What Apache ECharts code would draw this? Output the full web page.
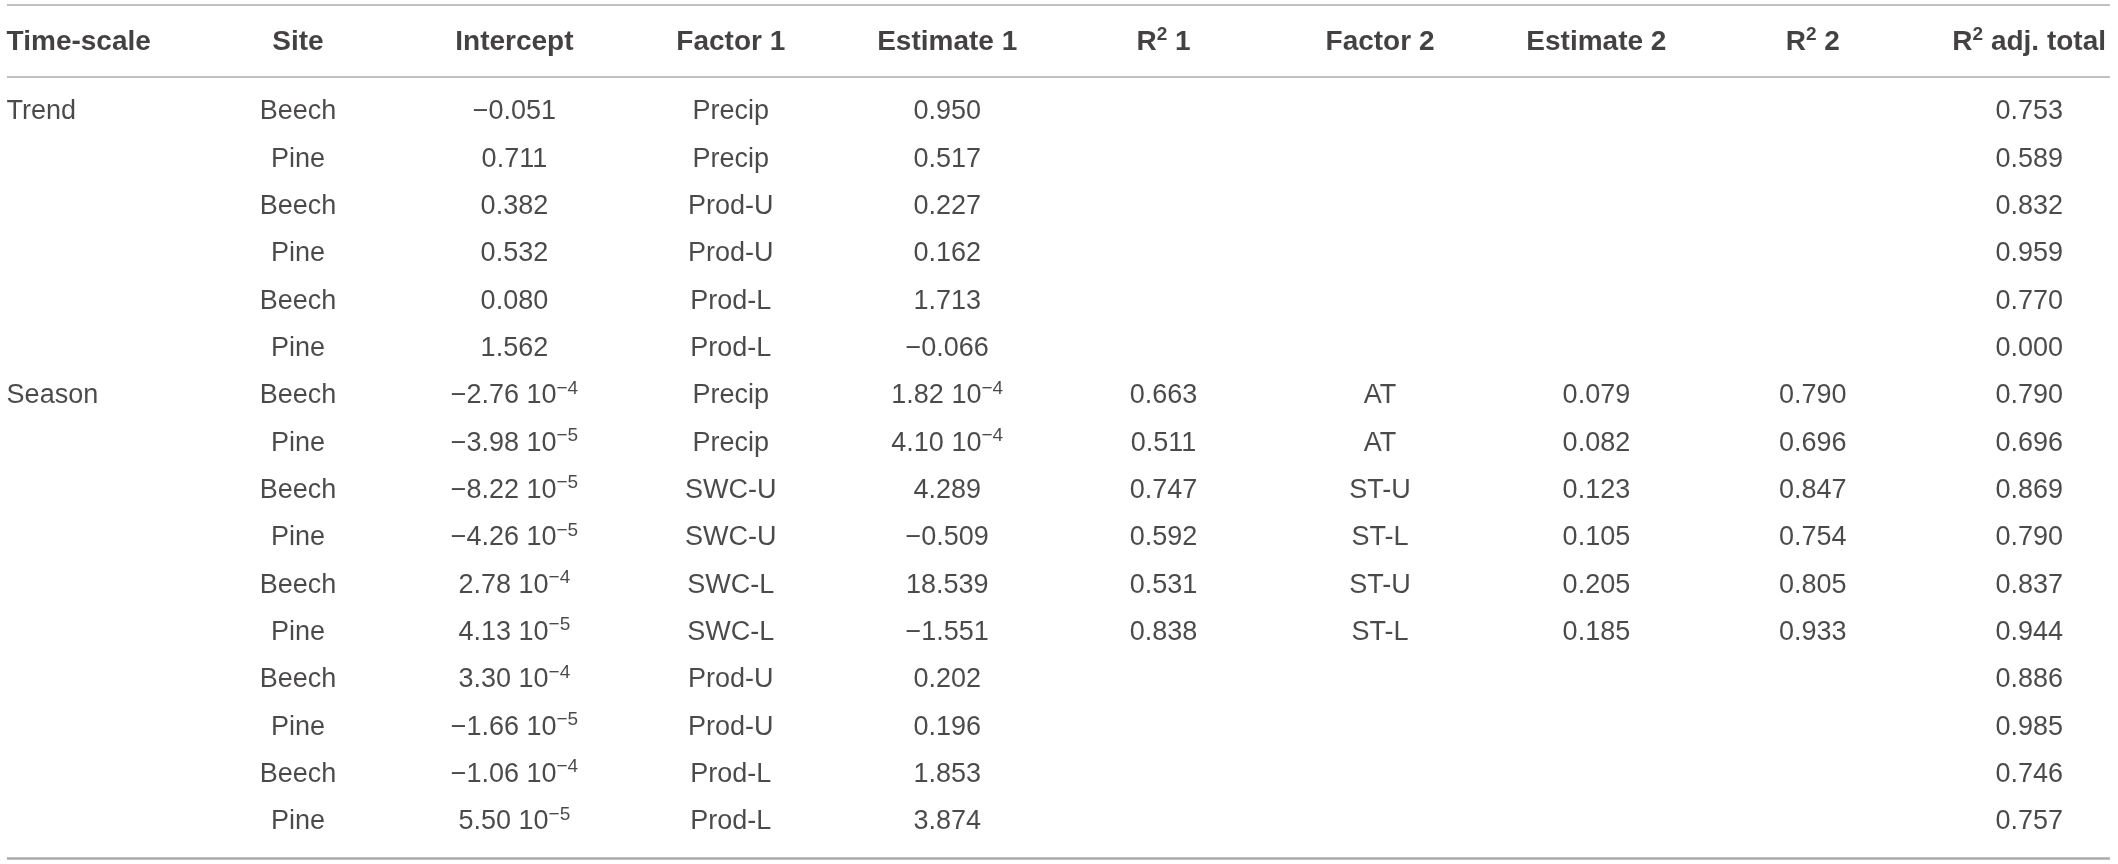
<!DOCTYPE html>
<html>
<head>
<meta charset="utf-8">
<title>Regression table</title>
<style>
  html, body { margin: 0; padding: 0; background: #fff; }
  #chart { width: 2118px; height: 864px; }
</style>
<script src="https://cdn.jsdelivr.net/npm/echarts@6/dist/echarts.min.js"></script>
</head>
<body>
<div id="chart"></div>
<script>
// column headers
const headers = ['Time-scale', 'Site', 'Intercept', 'Factor 1', 'Estimate 1',
  'R{hsup|2} 1', 'Factor 2', 'Estimate 2', 'R{hsup|2} 2', 'R{hsup|2} adj. total'];

// table body, one array per column (null = empty cell)
const timeScale = ['Trend', null, null, null, null, null,
  'Season', null, null, null, null, null, null, null, null, null];
const sites = ['Beech', 'Pine', 'Beech', 'Pine', 'Beech', 'Pine',
  'Beech', 'Pine', 'Beech', 'Pine', 'Beech', 'Pine', 'Beech', 'Pine', 'Beech', 'Pine'];
const intercept = [-0.051, 0.711, 0.382, 0.532, 0.080, 1.562,
  -2.76e-4, -3.98e-5, -8.22e-5, -4.26e-5, 2.78e-4, 4.13e-5, 3.30e-4, -1.66e-5, -1.06e-4, 5.50e-5];
const factor1 = ['Precip', 'Precip', 'Prod-U', 'Prod-U', 'Prod-L', 'Prod-L',
  'Precip', 'Precip', 'SWC-U', 'SWC-U', 'SWC-L', 'SWC-L', 'Prod-U', 'Prod-U', 'Prod-L', 'Prod-L'];
const estimate1 = [0.950, 0.517, 0.227, 0.162, 1.713, -0.066,
  1.82e-4, 4.10e-4, 4.289, -0.509, 18.539, -1.551, 0.202, 0.196, 1.853, 3.874];
const r2First = [null, null, null, null, null, null,
  0.663, 0.511, 0.747, 0.592, 0.531, 0.838, null, null, null, null];
const factor2 = [null, null, null, null, null, null,
  'AT', 'AT', 'ST-U', 'ST-L', 'ST-U', 'ST-L', null, null, null, null];
const estimate2 = [null, null, null, null, null, null,
  0.079, 0.082, 0.123, 0.105, 0.205, 0.185, null, null, null, null];
const r2Second = [null, null, null, null, null, null,
  0.790, 0.696, 0.847, 0.754, 0.805, 0.933, null, null, null, null];
const r2Total = [0.753, 0.589, 0.832, 0.959, 0.770, 0.000,
  0.790, 0.696, 0.869, 0.790, 0.837, 0.944, 0.886, 0.985, 0.746, 0.757];

const columns = [timeScale, sites, intercept, factor1, estimate1,
  r2First, factor2, estimate2, r2Second, r2Total];

// layout (axis units: one column / one row per unit)
const headerRow = -1.48;
const ruleTop = -2.26, ruleHead = -0.74, ruleBottom = 15.76;
const ruleX0 = -0.345, ruleX1 = 9.373;
const font = '"Liberation Sans", Arial, Helvetica, sans-serif';
const textColor = '#1e1c1d';
const headColor = '#141213';
const ruleColor = '#ababab';

function fmt(v) {
  if (typeof v === 'string') return v;
  const a = Math.abs(v);
  if (a !== 0 && a < 0.001) {
    const e = Math.floor(Math.log10(a));
    const m = (v / Math.pow(10, e)).toFixed(2);
    return m.replace('-', '\u2212') + ' 10{sup|\u2212' + Math.abs(e) + '}';
  }
  return v.toFixed(3).replace('-', '\u2212');
}

const leftCol = { align: 'left', offset: [-75, 0] };

const cells = [];
columns.forEach((col, c) => {
  col.forEach((v, r) => {
    if (v === null) return;
    const item = { name: fmt(v), value: [c, r] };
    if (c === 0) item.label = leftCol;
    cells.push(item);
  });
});

const heads = headers.map((h, c) => {
  const item = { name: h, value: [c, headerRow] };
  if (c === 0) item.label = leftCol;
  return item;
});

const rule = (y, w) => [
  { coord: [ruleX0, y], lineStyle: { color: ruleColor, width: w, type: 'solid' } },
  { coord: [ruleX1, y] }
];

const chart = echarts.init(document.getElementById('chart'));

chart.setOption({
  animation: false,
  backgroundColor: '#fff',
  grid: { left: 0, right: 0, top: 0, bottom: 0 },
  xAxis: { type: 'value', min: -0.3771, max: 9.4104, show: false },
  yAxis: { type: 'value', inverse: true, min: -2.366, max: 15.887, show: false },
  series: [
    {
      type: 'scatter',
      silent: true,
      symbolSize: 1,
      itemStyle: { color: 'transparent' },
      data: cells,
      label: {
        show: true,
        position: 'inside',
        align: 'center',
        verticalAlign: 'middle',
        formatter: p => p.name,
        fontFamily: font,
        fontSize: 27,
        lineHeight: 34,
        color: textColor,
        rich: {
          sup: { fontFamily: font, fontSize: 19, lineHeight: 18, verticalAlign: 'top', color: textColor }
        }
      }
    },
    {
      type: 'scatter',
      silent: true,
      symbolSize: 1,
      itemStyle: { color: 'transparent' },
      data: heads,
      label: {
        show: true,
        position: 'inside',
        align: 'center',
        verticalAlign: 'middle',
        formatter: p => p.name,
        fontFamily: font,
        fontWeight: 'bold',
        fontSize: 28,
        lineHeight: 34,
        color: headColor,
        rich: {
          hsup: { fontFamily: font, fontWeight: 'bold', fontSize: 19, lineHeight: 18, verticalAlign: 'top', color: headColor }
        }
      },
      markLine: {
        silent: true,
        symbol: 'none',
        label: { show: false },
        data: [rule(ruleTop, 1.5), rule(ruleHead, 1.5), rule(ruleBottom, 2.5)]
      }
    }
  ]
});
</script>
</body>
</html>
